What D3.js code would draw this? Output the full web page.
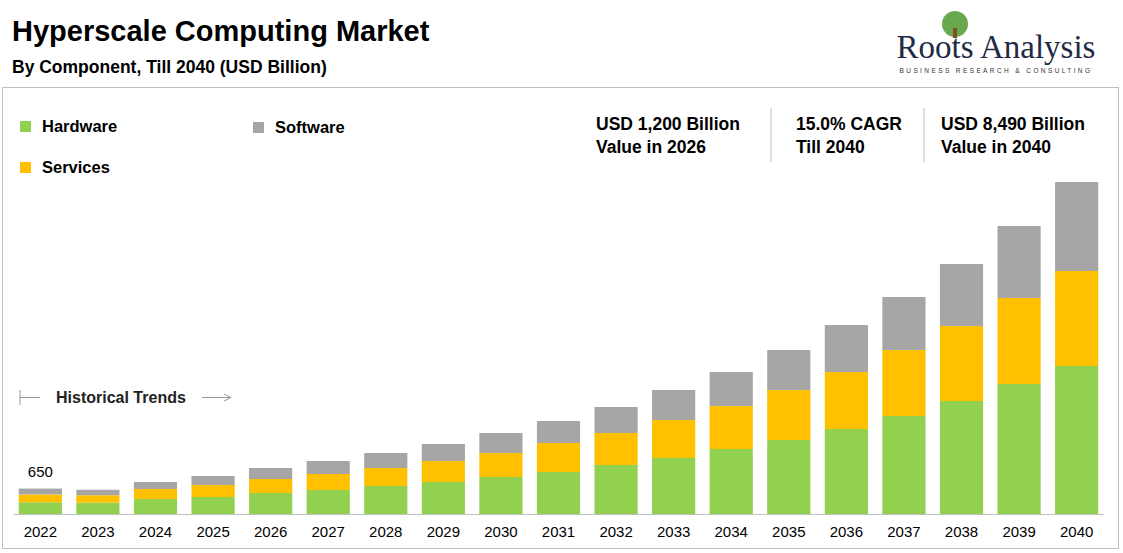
<!DOCTYPE html><html><head><meta charset="utf-8">
<script src="https://cdn.jsdelivr.net/npm/d3@7"></script>
<style>body{margin:0;background:#fff;font-family:Arial,"Liberation Sans",sans-serif}</style></head><body>
<script>
const years=["2022","2023","2024","2025","2026","2027","2028","2029","2030","2031","2032","2033","2034","2035","2036","2037","2038","2039","2040"];
const hardware=[300,290,384,435,537,614,716,818,946,1074,1253,1432,1662,1892,2173,2506,2890,3325,3785];
const services=[200,190,256,307,358,409,460,537,614,742,818,972,1100,1279,1457,1688,1918,2200,2430];
const software=[150,140,179,230,281,332,384,435,511,563,665,767,870,1023,1202,1355,1585,1840,2275];
const keys=["hardware","services","software"];
const colors={hardware:"#92d050",services:"#ffc000",software:"#a6a6a6"};
const data=years.map((y,i)=>({year:y,hardware:hardware[i],services:services[i],software:software[i]}));
const W=1123,H=553;
const svg=d3.select("body").append("svg").attr("width",W).attr("height",H);
svg.append("rect").attr("x",2.5).attr("y",87.5).attr("width",1116).attr("height",461).attr("fill","none").attr("stroke","#bfbfbf");
svg.append("text").attr("x",12).attr("y",41).attr("font-size",29).attr("font-weight","bold").text("Hyperscale Computing Market");
svg.append("text").attr("x",12).attr("y",73).attr("font-size",17.5).attr("font-weight","bold").text("By Component, Till 2040 (USD Billion)");
// logo
svg.append("circle").attr("cx",955).attr("cy",24).attr("r",13).attr("fill","#6aa84f");
svg.append("rect").attr("x",953).attr("y",28).attr("width",4).attr("height",10).attr("fill","#7a5230");
svg.append("text").attr("x",996).attr("y",58).attr("text-anchor","middle").attr("font-size",33).attr("font-family","Liberation Serif,serif").attr("fill","#1f2a44").text("Roots Analysis");
svg.append("text").attr("x",996).attr("y",73).attr("text-anchor","middle").attr("font-size",6.5).attr("letter-spacing",2.4).attr("fill","#333").text("BUSINESS RESEARCH & CONSULTING");
// legend
const leg=[["hardware","Hardware",20,127],["software","Software",253,128],["services","Services",20,168]];
leg.forEach(([k,t,x,y])=>{svg.append("rect").attr("x",x).attr("y",y-6).attr("width",11).attr("height",11).attr("fill",colors[k]);
svg.append("text").attr("x",x+22).attr("y",y+5).attr("font-size",16.5).attr("font-weight","bold").text(t);});
// stats
const stats=[[596,"USD 1,200 Billion","Value in 2026"],[796,"15.0% CAGR","Till 2040"],[941,"USD 8,490 Billion","Value in 2040"]];
stats.forEach(([x,a,b])=>{const t=svg.append("text").attr("font-size",17.5).attr("font-weight","bold");
t.append("tspan").attr("x",x).attr("y",130).text(a);t.append("tspan").attr("x",x).attr("y",153).text(b);});
[771,924].forEach(x=>svg.append("line").attr("x1",x).attr("x2",x).attr("y1",108).attr("y2",162).attr("stroke","#bfbfbf"));
// chart
const x=d3.scaleBand().domain(years).range([13,1104]).paddingInner(0.25).paddingOuter(0.1);
const y=d3.scaleLinear().domain([0,8490]).range([514,182]);
const stack=d3.stack().keys(keys)(data);
svg.append("g").selectAll("g").data(stack).join("g").attr("fill",d=>colors[d.key])
.selectAll("rect").data(d=>d).join("rect").attr("x",d=>x(d.data.year)).attr("width",x.bandwidth())
.attr("y",d=>y(d[1])).attr("height",d=>y(d[0])-y(d[1]));
const ax=svg.append("g").attr("transform","translate(0,514)").call(d3.axisBottom(x).tickSize(0).tickPadding(12));
ax.select(".domain").attr("stroke","#bfbfbf");
ax.selectAll("text").attr("font-size",15).attr("font-family","Arial,Liberation Sans,sans-serif").attr("fill","#000");
svg.append("text").attr("x",x("2022")+x.bandwidth()/2).attr("y",y(650)-12).attr("text-anchor","middle").attr("font-size",15).text("650");
// historical
svg.append("line").attr("x1",20).attr("x2",20).attr("y1",390).attr("y2",405).attr("stroke","#999");
svg.append("line").attr("x1",20).attr("x2",40).attr("y1",397.5).attr("y2",397.5).attr("stroke","#999");
svg.append("text").attr("x",56).attr("y",403).attr("font-size",16).attr("font-weight","bold").attr("fill","#222").text("Historical Trends");
svg.append("line").attr("x1",202).attr("x2",230).attr("y1",397.5).attr("y2",397.5).attr("stroke","#999");
svg.append("path").attr("d","M224,394 L231,397.5 L224,401").attr("fill","none").attr("stroke","#999");
</script></body></html>
